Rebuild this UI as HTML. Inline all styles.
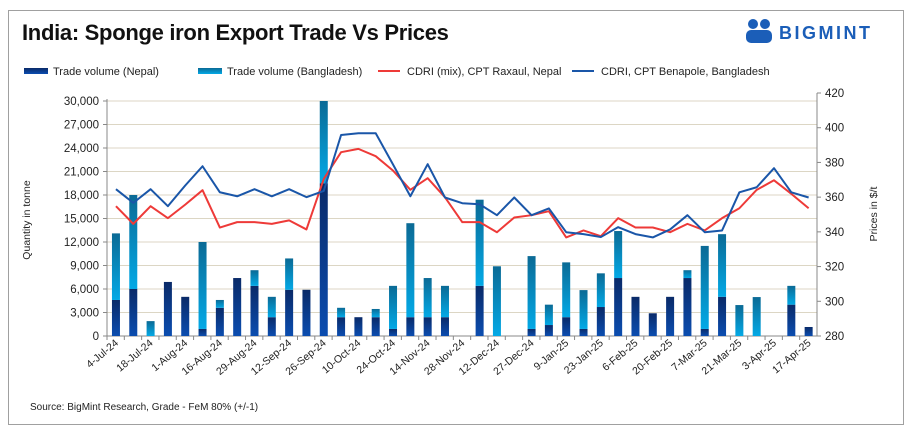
<!DOCTYPE html>
<html><head><meta charset="utf-8"><style>
body{margin:0;background:#fff;font-family:"Liberation Sans",sans-serif}
#wrap{position:relative;width:912px;height:435px;overflow:hidden}
</style></head><body>
<div id="wrap">
<svg id="svg" width="912" height="435" xmlns="http://www.w3.org/2000/svg" font-family="Liberation Sans, sans-serif">
<defs>
<linearGradient id="gDark" x1="0" y1="0" x2="0" y2="1"><stop offset="0" stop-color="#0a2a68"/><stop offset="1" stop-color="#0b4db0"/></linearGradient>
<linearGradient id="gLight" x1="0" y1="0" x2="0" y2="1"><stop offset="0" stop-color="#0b6a95"/><stop offset="1" stop-color="#03a9e6"/></linearGradient>
</defs>
<rect x="8.5" y="10.5" width="895" height="414" fill="#fff" stroke="#a0a0a0"/>
<text x="22" y="40" font-size="22" font-weight="bold" fill="#111" letter-spacing="-0.3">India: Sponge iron Export Trade Vs Prices</text>
<g>
<circle cx="753" cy="24" r="5" fill="#1b5eb8"/><circle cx="765" cy="24" r="5" fill="#1b5eb8"/>
<rect x="746" y="30" width="26" height="13" rx="5" fill="#1b5eb8"/>
<text x="779" y="39" font-size="18" font-weight="bold" fill="#1b5eb8" letter-spacing="2.5">BIGMINT</text>
</g>
<g id="legend" font-size="11" fill="#222"></g>
<g id="plot"></g>
<text x="30" y="220" font-size="10.5" fill="#222" transform="rotate(-90 30 220)" text-anchor="middle">Quantity in tonne</text>
<text x="877" y="214" font-size="10.5" fill="#222" transform="rotate(-90 877 214)" text-anchor="middle">Prices in $/t</text>
<text x="30" y="410" font-size="10" fill="#222">Source: BigMint Research, Grade - FeM 80% (+/-1)</text>
</svg>
</div>
<script>
const categories=["4-Jul-24","11-Jul-24","18-Jul-24","25-Jul-24","1-Aug-24","8-Aug-24","16-Aug-24","22-Aug-24","29-Aug-24","5-Sep-24","12-Sep-24","19-Sep-24","26-Sep-24","3-Oct-24","10-Oct-24","17-Oct-24","24-Oct-24","7-Nov-24","14-Nov-24","21-Nov-24","28-Nov-24","5-Dec-24","12-Dec-24","19-Dec-24","27-Dec-24","2-Jan-25","9-Jan-25","16-Jan-25","23-Jan-25","30-Jan-25","6-Feb-25","13-Feb-25","20-Feb-25","27-Feb-25","7-Mar-25","14-Mar-25","21-Mar-25","27-Mar-25","3-Apr-25","10-Apr-25","17-Apr-25"];
const nepalVol=[4600,6000,0,6900,5000,900,3600,7400,6400,2400,5900,5900,19500,2400,2400,2400,900,2400,2400,2400,0,6400,0,0,900,1400,2400,900,3700,7400,5000,2900,5000,7400,900,5000,0,0,0,4000,1150];
const bangladeshVol=[8500,12000,1900,0,0,11100,1000,0,2000,2600,4000,0,10500,1200,0,1050,5500,12000,5000,4000,0,11000,8900,0,9300,2600,7000,4960,4300,6000,0,0,0,1000,10600,8000,3950,4970,0,2400,0];
const priceRaxaul=[354.8,344.6,354.8,347.9,355.7,364,342.5,345.6,345.6,344.6,346.6,341.4,370.5,385.9,387.8,383.6,375.3,364.2,370.9,359.9,345.6,345.6,339.8,348.3,349.6,351.9,336.8,340.8,337.5,347.9,342.5,342.5,339.8,344.6,340.8,347.9,353.6,364.2,369.7,361.9,353.6];
const priceBenapole=[364.6,356.7,364.6,354.8,366.7,377.8,362.8,360.5,364.6,360.5,364.6,360,363.6,395.8,396.8,396.8,378.8,360.5,379,359.8,356.5,355.9,349.6,359.8,349.6,353.5,339.8,338.7,337,342.7,338.7,336.8,341.4,349.6,339.8,340.8,362.8,365.7,376.7,362.8,359.8];
const leftTicks=[0,3000,6000,9000,12000,15000,18000,21000,24000,27000,30000];
const rightTicks=[280,300,320,340,360,380,400,420];

const NS="http://www.w3.org/2000/svg";
function mk(tag,attrs,parent,text){const e=document.createElementNS(NS,tag);for(const k in attrs)e.setAttribute(k,attrs[k]);if(text!==undefined)e.textContent=text;parent.appendChild(e);return e;}
const plot=document.getElementById('plot');
const X0=107,X1=817,Y0=336,YL=101,YR=93;
const band=(X1-X0)/categories.length;
const xC=i=>X0+band*(i+0.5)+0.3;
const yL=v=>Y0-(v/30000)*(Y0-YL);
const yR=v=>Y0-((v-280)/140)*(Y0-YR);

leftTicks.forEach(t=>{
  if(t>0){const g=mk('line',{x1:X0,x2:X1,y1:yL(t),y2:yL(t),stroke:'#dcd6c4','stroke-width':1},plot);
  
  }
  mk('line',{x1:X0-4,x2:X0,y1:yL(t),y2:yL(t),stroke:'#888'},plot);
  const l=mk('text',{x:X0-8,y:yL(t)+4,'font-size':11.5,'text-anchor':'end',fill:'#222'},plot,t.toLocaleString('en-US'));
  
  
});
rightTicks.forEach(t=>{
  mk('line',{x1:X1,x2:X1+4,y1:yR(t),y2:yR(t),stroke:'#888'},plot);
  const l=mk('text',{x:X1+8,y:yR(t)+4,'font-size':11.5,fill:'#222'},plot,String(t));
  
  
});
mk('line',{x1:X0,x2:X0,y1:YL-2,y2:Y0,stroke:'#888'},plot);
mk('line',{x1:X1,x2:X1,y1:YR,y2:Y0,stroke:'#888'},plot);
mk('line',{x1:X0,x2:X1,y1:Y0,y2:Y0,stroke:'#888'},plot);

const bw=8;
categories.forEach((c,i)=>{
  const x=xC(i)-bw/2;
  const n=nepalVol[i],b=bangladeshVol[i];
  if(n>0){const r=mk('rect',{x:x,y:yL(n),width:bw,height:Y0-yL(n),fill:'url(#gDark)'},plot);
  
  }
  if(b>0){const r=mk('rect',{x:x,y:yL(n+b),width:bw,height:yL(n)-yL(n+b),fill:'url(#gLight)'},plot);
  
  }
  mk('line',{x1:X0+band*i,x2:X0+band*i,y1:Y0,y2:Y0+4,stroke:'#888'},plot);
  if(i%2===0){
    const tx=xC(i)+3,ty=Y0+8;
    const l=mk('text',{x:tx,y:ty,'font-size':10.5,'text-anchor':'end',fill:'#222',transform:`rotate(-40 ${tx} ${ty})`},plot,c);
    
    
  }
});
function line(arr,color,name){
  const p=mk('polyline',{points:arr.map((v,i)=>xC(i)+','+yR(v)).join(' '),fill:'none',stroke:color,'stroke-width':2,'stroke-linejoin':'round'},plot);
  
  
}
line(priceRaxaul,'#ee3a38','line-cdri-raxaul');
line(priceBenapole,'#1a56a8','line-cdri-benapole');

const lg=document.getElementById('legend');
const items=[['rect','url(#gDark)','Trade volume (Nepal)',24],['rect','url(#gLight)','Trade volume (Bangladesh)',198],['line','#ee3a38','CDRI (mix), CPT Raxaul, Nepal',378],['line','#1a56a8','CDRI, CPT Benapole, Bangladesh',572]];
items.forEach(it=>{
  const g=mk('g',{},lg);
  
  
  if(it[0]==='rect')mk('rect',{x:it[3],y:68,width:24,height:6,fill:it[1]},g);
  else mk('line',{x1:it[3],x2:it[3]+22,y1:71,y2:71,stroke:it[1],'stroke-width':2},g);
  mk('text',{x:it[3]+29,y:75,'font-size':11,fill:'#222'},g,it[2]);
});
</script>
</body></html>
